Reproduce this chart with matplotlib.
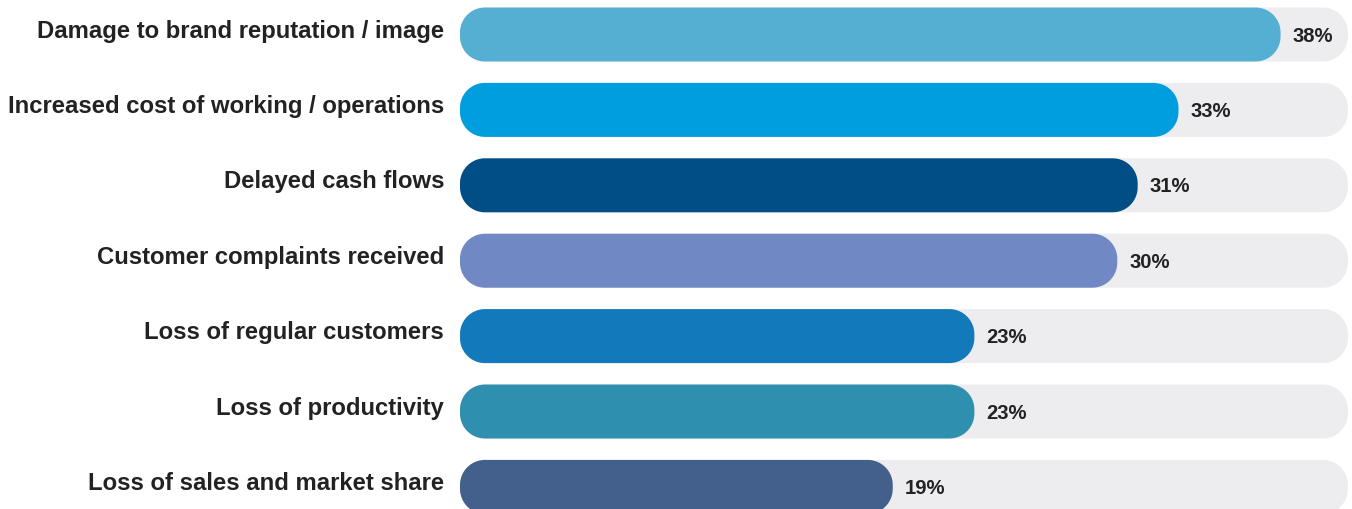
import numpy as np
import matplotlib.pyplot as plt
from matplotlib.patches import Polygon

labels = ["Damage to brand reputation / image",
          "Increased cost of working / operations",
          "Delayed cash flows",
          "Customer complaints received",
          "Loss of regular customers",
          "Loss of productivity",
          "Loss of sales and market share"]
values = [38, 33, 31, 30, 23, 23, 19]
colors = ["#55AFD3", "#009EDE", "#004E85", "#7089C4",
          "#1279BB", "#2E8FAF", "#43608D"]
track_color = "#EDEDEF"
text_color = "#222222"

plt.rcParams['font.family'] = ['Liberation Sans', 'DejaVu Sans']

W, H = 1352, 509
fig = plt.figure(figsize=(W / 100, H / 100), dpi=100)
ax = fig.add_axes([460 / W, 0, 1 - 460 / W, 1])

x0 = -2.2          # left cap start
x_right = 41.5
track_end = 41.3
ax.set_xlim(x0, x_right)
ax.set_ylim(6.293, -0.4576)
ax.axis('off')

px_x = (W - 460) / (x_right - x0)     # px per x unit
px_y = H / (6.293 + 0.4576)           # px per y unit
bar_h = 54 / px_y
rx = 25 / px_x
ry = 25 / px_y

def rbar(left, right, yc, color, z):
    t = np.linspace(0, np.pi / 2, 20)
    top = yc - bar_h / 2
    bot = yc + bar_h / 2
    pts = []
    # corners: (center x, center y, start angle)
    for cx, cy, a0 in [(right - rx, bot - ry, 0), (left + rx, bot - ry, np.pi / 2),
                       (left + rx, top + ry, np.pi), (right - rx, top + ry, 1.5 * np.pi)]:
        a = a0 + t
        pts += list(zip(cx + rx * np.cos(a), cy + ry * np.sin(a)))
    ax.add_patch(Polygon(pts, closed=True, fc=color, ec='none', zorder=z))

for i, (lab, v, c) in enumerate(zip(labels, values, colors)):
    rbar(x0, track_end, i, track_color, 1)
    rbar(x0, v, i, c, 2)
    ax.annotate(lab, (x0, i), xytext=(-16 * 0.72, -3 * 0.72),
                textcoords='offset points', ha='right', va='baseline',
                fontsize=17.2, fontweight='bold', color=text_color,
                annotation_clip=False)
    ax.annotate("%d%%" % v, (v, i), xytext=(12 * 0.72, -7 * 0.72),
                textcoords='offset points', ha='left', va='baseline',
                fontsize=14.6, fontweight='bold', color=text_color,
                annotation_clip=False)

fig.savefig("out.png", dpi=100)
